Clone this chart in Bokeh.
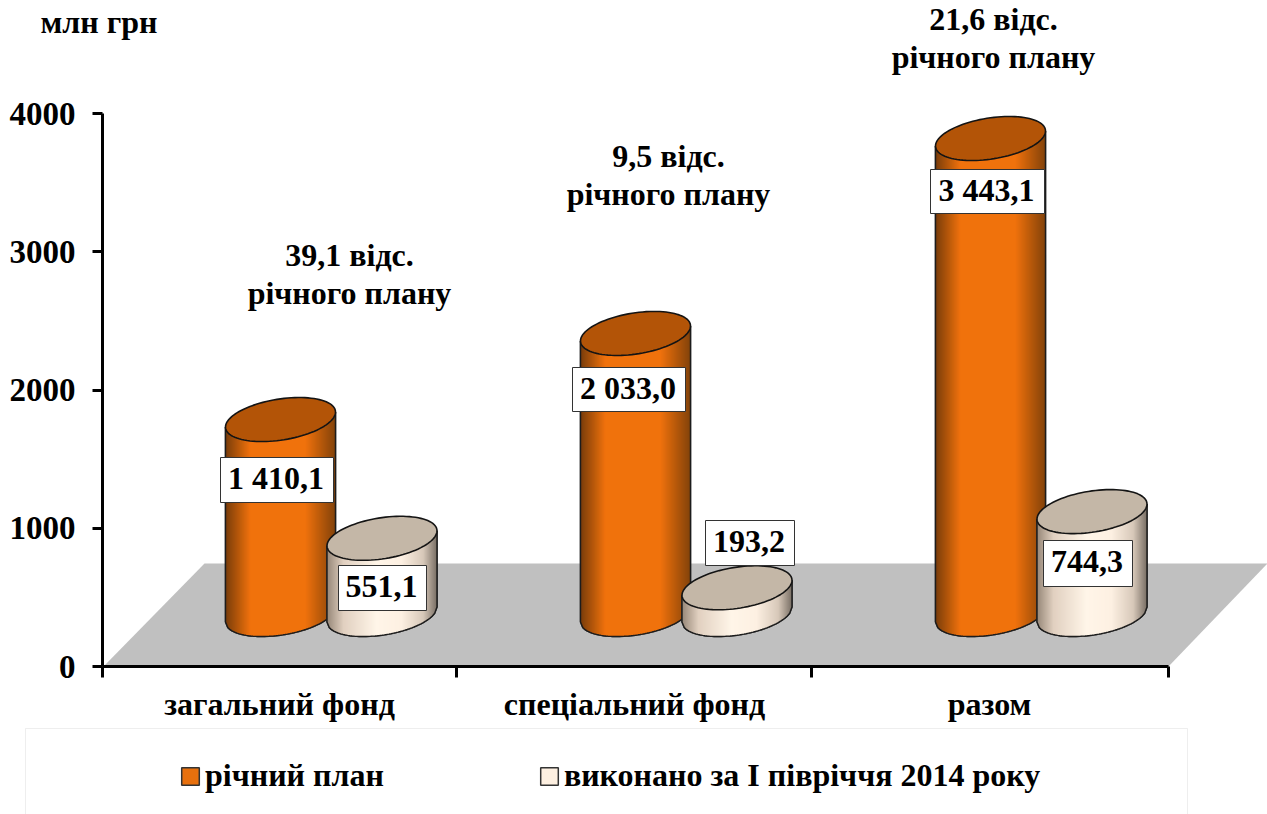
import math
from bokeh.plotting import figure
from bokeh.models import Range1d, FixedTicker, Legend, LegendItem, BoxAnnotation
from bokeh.core.properties import value
from bokeh.embed import file_html
from bokeh.resources import INLINE

# ---- data
categories = ["загальний фонд", "спеціальний фонд", "разом"]
series_names = ["річний план", "виконано за І півріччя 2014 року"]
plan_values = [1410.1, 2033.0, 3443.1]
done_values = [551.1, 193.2, 744.3]
plan_labels = ["1 410,1", "2 033,0", "3 443,1"]
done_labels = ["551,1", "193,2", "744,3"]
y_ticks = [0, 1000, 2000, 3000, 4000]
notes = [["39,1 відс.", "річного плану"], ["9,5 відс.", "річного плану"], ["21,6 відс.", "річного плану"]]
unit_label = "млн грн"

# ---- layout (1 x unit = 1 px, y in chart units)
W, H = 1267, 814
X0, Y0 = 102, 666
Y_PER_PX = 4000 / 553
FONT = value("Liberation Serif")
FS = "32px"

def dy(px):
    return px * Y_PER_PX

def page_y(py):
    return (Y0 - py) * Y_PER_PX

def page_x(px):
    return px - X0

p = figure(width=W, height=H, output_backend="svg", toolbar_location=None,
           x_range=Range1d(-X0, W - X0), y_range=Range1d(-(H - Y0) * Y_PER_PX, Y0 * Y_PER_PX),
           min_border_left=0, min_border_bottom=0, min_border_top=0, min_border_right=0,
           outline_line_color=None)
p.grid.visible = False
p.background_fill_color = None
p.border_fill_color = "white"

# axes
ya = p.yaxis[0]
ya.fixed_location = 0
ya.ticker = FixedTicker(ticks=y_ticks)
ya.bounds = (0, 4000)
ya.axis_line_width = 3
ya.axis_line_color = "black"
ya.major_tick_line_width = 3
ya.major_tick_line_color = "black"
ya.major_tick_out = 10
ya.major_tick_in = 0
ya.minor_tick_line_color = None
ya.major_label_standoff = 17
ya.major_label_text_font = "Liberation Serif"
ya.major_label_text_font_style = "bold"
ya.major_label_text_font_size = "33px"
ya.major_label_text_color = "black"

boundaries = [page_x(v) for v in (102, 456, 811, 1168)]
centers = [page_x(v) for v in (279, 634, 989)]
xa = p.xaxis[0]
xa.fixed_location = 0
xa.ticker = FixedTicker(ticks=centers, minor_ticks=boundaries)
xa.major_label_overrides = {c: n for c, n in zip(centers, categories)}
xa.bounds = (0, boundaries[-1])
xa.axis_line_width = 3
xa.axis_line_color = "black"
xa.major_tick_line_color = None
xa.major_tick_out = 0
xa.major_tick_in = 0
xa.minor_tick_line_width = 3
xa.minor_tick_line_color = "black"
xa.minor_tick_out = 11
xa.minor_tick_in = 0
xa.major_label_standoff = 8
xa.major_label_text_font = "Liberation Serif"
xa.major_label_text_font_style = "bold"
xa.major_label_text_font_size = FS
xa.major_label_text_color = "black"

# floor
p.patch([page_x(v) for v in (103, 204, 1267, 1168)],
        [page_y(v) for v in (666, 563, 563, 666)],
        fill_color="#C0C0C0", line_color=None)

# cylinders
A, B, C = 55, 20.7, 7.5   # half width, half depth, slant (px)
BASE_PY = 614
N = 48

def lower(cy, u):
    # y of the front half of the rim at horizontal fraction u (-1..1)
    return cy + dy(C * u) - dy(B * math.sqrt(max(0.0, 1 - u * u)))

def shade(u, stops):
    for (u0, c0), (u1, c1) in zip(stops, stops[1:]):
        if u <= u1:
            f = (u - u0) / (u1 - u0)
            return "#%02x%02x%02x" % tuple(round(a + (b - a) * f) for a, b in zip(c0, c1))
    return "#%02x%02x%02x" % stops[-1][1]

def cylinders(centres_px, values, top_color, legend_color, stops):
    base = page_y(BASE_PY)
    sil_x, sil_y, st_x, st_y, st_c, top_x, top_y, out_x, out_y = [], [], [], [], [], [], [], [], []
    for c_px, v in zip(centres_px, values):
        cx = page_x(c_px)
        top = base + v
        us = [-1 + 2 * i / N for i in range(N + 1)]
        rim = [cx + A * u for u in us]
        low = [lower(base, u) for u in us]
        high = [lower(top, u) for u in us]
        sil_x.append(rim + rim[::-1])
        sil_y.append(low + high[::-1])
        out_x.append([rim[0]] + rim + [rim[-1]])
        out_y.append([high[0]] + low + [high[-1]])
        steps = 110
        for i in range(steps):
            u0, u1 = -1 + 2 * i / steps, -1 + 2 * (i + 1) / steps
            u2 = min(1.0, u1 + 0.012)
            xs = [cx + A * u0, cx + A * u2, cx + A * u2, cx + A * u0]
            ys = [lower(base, u0), lower(base, u2), lower(top, u2), lower(top, u0)]
            st_x.append(xs)
            st_y.append(ys)
            st_c.append(shade((u0 + u1) / 2, stops))
        ts = [2 * math.pi * i / 96 for i in range(97)]
        top_x.append([cx + A * math.cos(t) for t in ts])
        top_y.append([top + dy(C * math.cos(t)) + dy(B * math.sin(t)) for t in ts])
    sil = p.patches(sil_x, sil_y, fill_color=legend_color, line_color="#333333", line_width=1.5)
    p.patches(st_x, st_y, fill_color=st_c, line_color=None)
    p.multi_line(out_x, out_y, line_color="#1c1c1c", line_width=1.4)
    p.patches(top_x, top_y, fill_color=top_color, line_color="#141414", line_width=1.6)
    return sil

plan_stops = [(-1, (120, 60, 10)), (-0.55, (240, 114, 12)), (0.45, (240, 114, 12)), (1, (130, 66, 10))]
done_stops = [(-1, (150, 135, 120)), (-0.7, (225, 208, 192)), (-0.1, (255, 245, 232)),
              (0.35, (253, 240, 226)), (0.75, (215, 200, 185)), (1, (120, 110, 100))]
r_plan = cylinders([280, 635, 990], plan_values, "#B35407", "#E8700D", plan_stops)
r_done = cylinders([381.5, 736.5, 1091.5], done_values, "#C4B7A7", "#FDEFE0", done_stops)

# value labels
plan_boxes = [(220, 333, 457, 502), (572, 685, 367, 411), (930, 1044, 169, 213)]
done_boxes = [(338, 426, 565, 610), (705, 794, 520, 565), (1043, 1132, 540, 586)]
for boxes, labels in ((plan_boxes, plan_labels), (done_boxes, done_labels)):
    p.quad(left=[page_x(b[0]) for b in boxes], right=[page_x(b[1]) for b in boxes],
           top=[page_y(b[2]) for b in boxes], bottom=[page_y(b[3]) for b in boxes],
           fill_color="white", line_color="#333333", line_width=1)
    p.text([page_x((b[0] + b[1]) / 2 - 1) for b in boxes], [page_y((b[2] + b[3]) / 2 - 2) for b in boxes], text=labels,
           text_font=FONT, text_font_style="bold", text_font_size=FS, text_color="black",
           text_align="center", text_baseline="middle")

# notes above the groups
note_pos = [(349, 254, 292), (668, 155, 193), (993, 18, 56)]
for (nx, y1, y2), lines in zip(note_pos, notes):
    p.text([page_x(nx), page_x(nx)], [page_y(y1), page_y(y2)], text=lines,
           text_font=FONT, text_font_style="bold", text_font_size=FS, text_color="black",
           text_align="center", text_baseline="middle")
p.text([page_x(40)], [page_y(21)], text=[unit_label], text_font=FONT,
       text_font_style="bold", text_font_size=FS, text_color="black",
       text_align="left", text_baseline="middle")

# legend
frame_box = BoxAnnotation(left=25, right=1187, top=86, bottom=-6,
                          left_units="screen", right_units="screen", top_units="screen", bottom_units="screen",
                          fill_color="white", fill_alpha=1, line_color="#C8C8C8", line_width=1, level="underlay")
p.add_layout(frame_box)
legend = Legend(items=[LegendItem(label=series_names[0], renderers=[r_plan]),
                       LegendItem(label=series_names[1], renderers=[r_done])],
                location=(179, 20), orientation="horizontal", padding=0, margin=0,
                spacing=154, glyph_width=22, glyph_height=22, label_standoff=4,
                background_fill_alpha=0, border_line_color=None,
                label_text_font="Liberation Serif", label_text_font_style="bold",
                label_text_font_size=FS, label_text_color="black", label_height=22)
p.add_layout(legend)

open("out.html", "w").write(file_html(p, INLINE))
